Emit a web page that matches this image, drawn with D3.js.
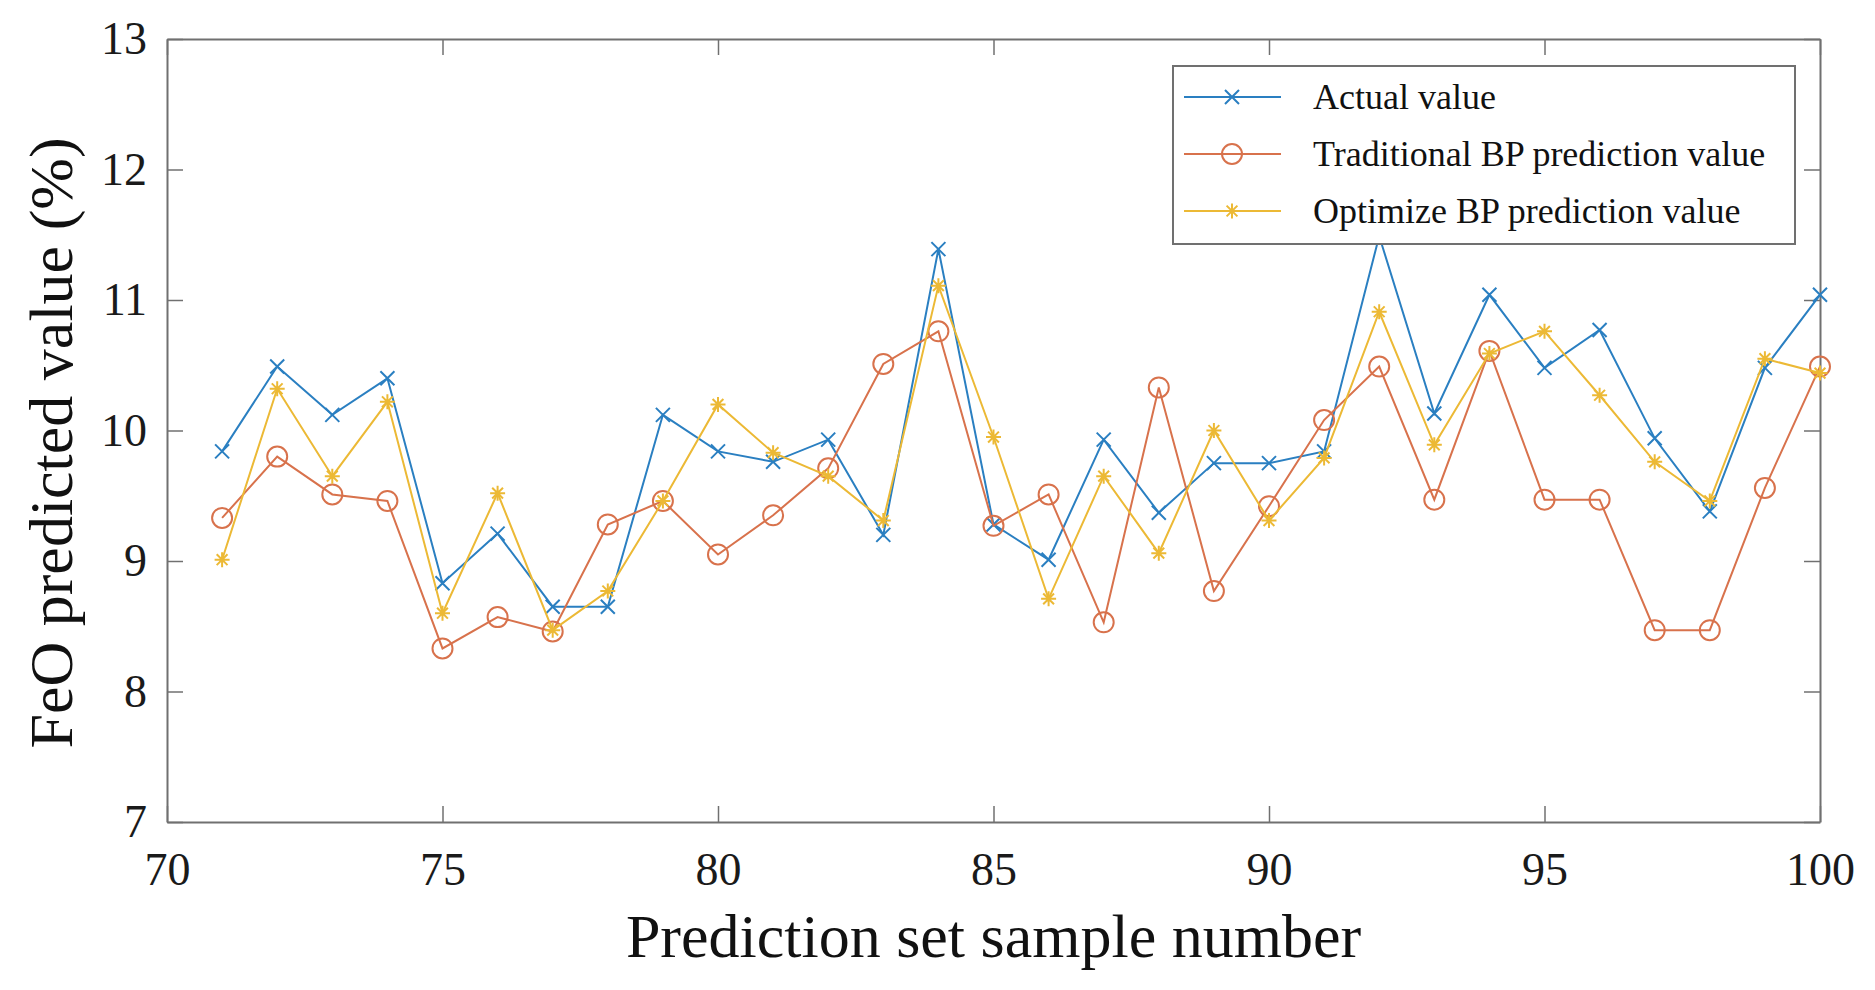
<!DOCTYPE html>
<html>
<head>
<meta charset="utf-8">
<script src="https://cdn.jsdelivr.net/npm/d3@7"></script>
<style>
  html, body { margin: 0; padding: 0; background: #fff; }
  svg { display: block; font-family: "Liberation Serif", "Times New Roman", serif; }
</style>
</head>
<body>
<div id="chart"></div>
<script>
// sample numbers 71..100 of the prediction set
const sampleNo = [71, 72, 73, 74, 75, 76, 77, 78, 79, 80,
                  81, 82, 83, 84, 85, 86, 87, 88, 89, 90,
                  91, 92, 93, 94, 95, 96, 97, 98, 99, 100];

const actualValue = [9.84, 10.49, 10.12, 10.40, 8.83, 9.21, 8.65, 8.65, 10.12, 9.84,
                     9.76, 9.93, 9.20, 11.39, 9.28, 9.01, 9.93, 9.37, 9.75, 9.75,
                     9.84, 11.49, 10.13, 11.04, 10.48, 10.77, 9.94, 9.38, 10.48, 11.04];

const traditionalBP = [9.33, 9.80, 9.51, 9.46, 8.33, 8.57, 8.46, 9.28, 9.46, 9.05,
                       9.35, 9.71, 10.51, 10.76, 9.27, 9.51, 8.53, 10.33, 8.77, 9.42,
                       10.08, 10.49, 9.47, 10.61, 9.47, 9.47, 8.47, 8.47, 9.56, 10.49];

const optimizeBP = [9.01, 10.32, 9.65, 10.22, 8.60, 9.52, 8.47, 8.77, 9.46, 10.20,
                    9.83, 9.65, 9.31, 11.11, 9.95, 8.71, 9.65, 9.06, 10.00, 9.31,
                    9.79, 10.91, 9.89, 10.59, 10.76, 10.27, 9.76, 9.46, 10.55, 10.44];

const xTicks = [70, 75, 80, 85, 90, 95, 100];
const yTicks = [7, 8, 9, 10, 11, 12, 13];

const seriesNames = ['Actual value', 'Traditional BP prediction value', 'Optimize BP prediction value'];

const W = 1875, H = 990;
const margin = {left: 167, right: 55, top: 39, bottom: 168};

const svg = d3.select('#chart').append('svg')
    .attr('width', W)
    .attr('height', H);

const x = d3.scaleLinear().domain([70, 100]).range([margin.left, W - margin.right]);
const y = d3.scaleLinear().domain([7, 13]).range([H - margin.bottom, margin.top]);

const axisColor = '#707070';
const tickLen = 16;
const fmt = d3.format('d');

// MATLAB style box with inward ticks on all four sides
const gBottom = svg.append('g')
    .attr('transform', `translate(0,${y(7)})`)
    .call(d3.axisBottom(x).tickValues(xTicks).tickFormat(fmt).tickSize(-tickLen).tickSizeOuter(0).tickPadding(30));
const gLeft = svg.append('g')
    .attr('transform', `translate(${x(70)},0)`)
    .call(d3.axisLeft(y).tickValues(yTicks).tickFormat(fmt).tickSize(-tickLen).tickSizeOuter(0).tickPadding(20));
const gTop = svg.append('g')
    .attr('transform', `translate(0,${y(13)})`)
    .call(d3.axisTop(x).tickValues(xTicks).tickSize(-tickLen).tickSizeOuter(0).tickFormat(''));
const gRight = svg.append('g')
    .attr('transform', `translate(${x(100)},0)`)
    .call(d3.axisRight(y).tickValues(yTicks).tickSize(-tickLen).tickSizeOuter(0).tickFormat(''));

[gBottom, gLeft, gTop, gRight].forEach(g => {
    g.select('.domain').attr('stroke', axisColor).attr('stroke-width', 2);
    g.selectAll('.tick line').attr('stroke', axisColor).attr('stroke-width', 1.5);
    g.selectAll('.tick text')
        .attr('fill', '#1a1a1a')
        .style('font-family', '"Liberation Serif", "Times New Roman", serif')
        .style('font-size', '46px');
});

// axis titles
svg.append('text')
    .attr('x', (x(70) + x(100)) / 2)
    .attr('y', 957)
    .attr('text-anchor', 'middle')
    .attr('fill', '#111')
    .style('font-size', '62px')
    .text('Prediction set sample number');

svg.append('text')
    .attr('transform', `translate(72,443) rotate(-90)`)
    .attr('text-anchor', 'middle')
    .attr('fill', '#111')
    .style('font-size', '62px')
    .text('FeO predicted value (%)');

// marker shapes
function markerPath(type, s) {
    const p = d3.path();
    if (type === 'x') {
        p.moveTo(-s, -s); p.lineTo(s, s);
        p.moveTo(-s, s); p.lineTo(s, -s);
    } else if (type === 'star') {
        const d = s * 0.72;
        p.moveTo(-s, 0); p.lineTo(s, 0);
        p.moveTo(0, -s); p.lineTo(0, s);
        p.moveTo(-d, -d); p.lineTo(d, d);
        p.moveTo(-d, d); p.lineTo(d, -d);
    } else {
        p.moveTo(s, 0);
        p.arc(0, 0, s, 0, Math.PI * 2);
    }
    return p.toString();
}

const series = [
    {name: seriesNames[0], values: actualValue, color: '#2a7fc1', marker: 'x', size: 7},
    {name: seriesNames[1], values: traditionalBP, color: '#d8724c', marker: 'o', size: 10},
    {name: seriesNames[2], values: optimizeBP, color: '#ecb935', marker: 'star', size: 7.5}
];

const line = d3.line()
    .x((d, i) => x(sampleNo[i]))
    .y(d => y(d));

series.forEach(s => {
    const g = svg.append('g');
    g.append('path')
        .datum(s.values)
        .attr('d', line)
        .attr('fill', 'none')
        .attr('stroke', s.color)
        .attr('stroke-width', 2);
    g.selectAll('.mk')
        .data(s.values)
        .enter().append('path')
        .attr('class', 'mk')
        .attr('transform', (d, i) => `translate(${x(sampleNo[i])},${y(d)})`)
        .attr('d', markerPath(s.marker, s.size))
        .attr('fill', 'none')
        .attr('stroke', s.color)
        .attr('stroke-width', 2);
});

// legend
const legend = svg.append('g');
legend.append('rect')
    .attr('x', 1173).attr('y', 66)
    .attr('width', 622).attr('height', 178)
    .attr('fill', '#fff')
    .attr('stroke', axisColor)
    .attr('stroke-width', 2);

const rows = legend.selectAll('.row')
    .data(series)
    .enter().append('g')
    .attr('class', 'row')
    .attr('transform', (d, i) => `translate(0,${97 + i * 57})`);

rows.append('line')
    .attr('x1', 1184).attr('x2', 1281)
    .attr('stroke', d => d.color)
    .attr('stroke-width', 2);
rows.append('path')
    .attr('transform', 'translate(1232,0)')
    .attr('d', d => markerPath(d.marker, d.size))
    .attr('fill', 'none')
    .attr('stroke', d => d.color)
    .attr('stroke-width', 2);
rows.append('text')
    .attr('x', 1313)
    .attr('dy', '0.33em')
    .attr('fill', '#111')
    .style('font-size', '36px')
    .text(d => d.name);
</script>
</body>
</html>
